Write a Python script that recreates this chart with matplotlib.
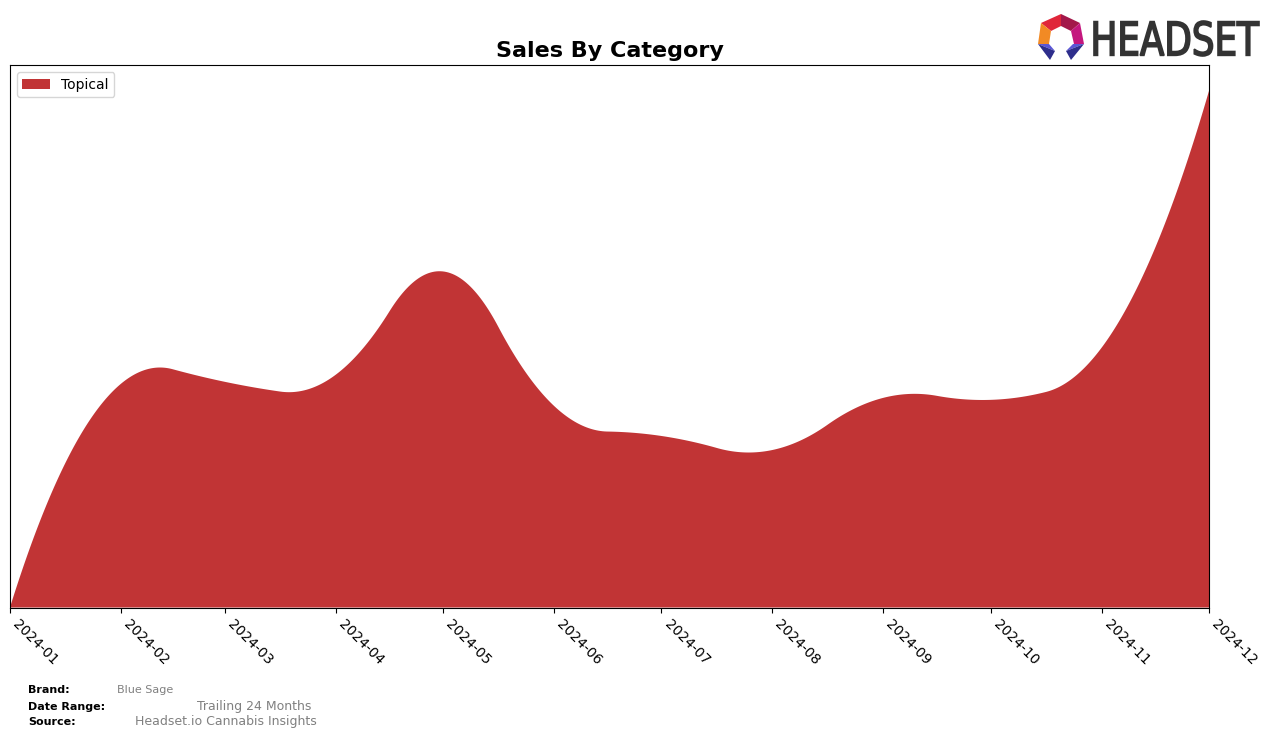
"""
Sales by category for Blue Sage, drawn as a smoothed area chart.
"""

import datetime

import numpy
import matplotlib
matplotlib.use('Agg')
from matplotlib import pyplot as plt
import matplotlib.dates as mdates
from matplotlib.patches import Polygon, PathPatch
from matplotlib.textpath import TextPath
from matplotlib.font_manager import FontProperties
from matplotlib.transforms import Affine2D

months = ['2024-01', '2024-02', '2024-03', '2024-04', '2024-05', '2024-06',
          '2024-07', '2024-08', '2024-09', '2024-10', '2024-11', '2024-12']
topicalSales = [0, 223, 225, 232, 335, 201, 171, 157, 209, 207, 259, 515]
category = 'Topical'
categoryColor = '#c13435'

brand = 'Blue Sage'
dateRange = 'Trailing 24 Months'
source = 'Headset.io Cannabis Insights'


def bsplineBasis(knots, degree, xs):
    """
    Cox-de Boor evaluation of all B-spline basis functions at xs
    """
    xs = numpy.asarray(xs, dtype=float)
    basis = numpy.zeros((len(xs), len(knots) - 1))
    for i in range(len(knots) - 1):
        basis[:, i] = (xs >= knots[i]) & (xs < knots[i + 1])
    lastSpan = max(i for i in range(len(knots) - 1) if knots[i] < knots[i + 1])
    basis[xs >= knots[-1], lastSpan] = 1.0
    for d in range(1, degree + 1):
        nextBasis = numpy.zeros((len(xs), len(knots) - 1 - d))
        for i in range(len(knots) - 1 - d):
            term = numpy.zeros(len(xs))
            if knots[i + d] > knots[i]:
                term += (xs - knots[i]) / (knots[i + d] - knots[i]) * basis[:, i]
            if knots[i + d + 1] > knots[i + 1]:
                term += (knots[i + d + 1] - xs) / (knots[i + d + 1] - knots[i + 1]) * basis[:, i + 1]
            nextBasis[:, i] = term
        basis = nextBasis
    return basis


def smoothCurve(x, y, numPoints=600):
    """
    Quadratic interpolating spline through the monthly values (knots between months)
    """
    x = numpy.asarray(x, dtype=float)
    mids = (x[1:] + x[:-1]) / 2.0
    knots = numpy.r_[(x[0],) * 3, mids[1:-1], (x[-1],) * 3]
    coeffs = numpy.linalg.solve(bsplineBasis(knots, 2, x), numpy.asarray(y, dtype=float))
    xs = numpy.linspace(x[0], x[-1], numPoints)
    return xs, bsplineBasis(knots, 2, xs) @ coeffs


def drawLogo(fig):
    """
    Headset logo in the top right corner, placed in pixel coordinates
    """
    height = fig.get_figheight() * fig.dpi
    toPixels = Affine2D().scale(1, -1).translate(0, height)
    pieces = [
        ([(1041, 23), (1061, 14), (1061, 26), (1051, 31)], '#e0263a'),
        ([(1061, 14), (1080, 23), (1071, 31), (1061, 26)], '#a3184a'),
        ([(1080, 23), (1084, 44), (1074, 44), (1071, 31)], '#c4177e'),
        ([(1041, 23), (1051, 31), (1049, 44), (1038, 44)], '#f28a24'),
        ([(1038, 44), (1049, 44), (1055, 51)], '#5a56d6'),
        ([(1038, 44), (1055, 51), (1050, 60)], '#2e2e8c'),
        ([(1073, 44), (1084, 44), (1066, 51)], '#5a56d6'),
        ([(1084, 44), (1071, 60), (1066, 51)], '#2e2e8c'),
    ]
    for points, color in pieces:
        fig.add_artist(Polygon(toPixels.transform(points), closed=True, facecolor=color,
                               edgecolor='none', transform=None))
    path = TextPath((0, 0), 'HEADSET', size=40, prop=FontProperties(family='DejaVu Sans'))
    box = path.get_extents()
    left, top, right, bottom = 1094, 21, 1259, 56
    fit = Affine2D().translate(-box.x0, -box.y0).scale((right - left) / box.width,
                                                       (bottom - top) / box.height) \
        .translate(left, height - bottom)
    fig.add_artist(PathPatch(fit.transform_path(path), facecolor='#333333', edgecolor='#333333',
                             linewidth=1.2, transform=None))


if __name__ == '__main__':
    monthDates = [datetime.datetime.strptime(m, '%Y-%m') for m in months]
    x = mdates.date2num(monthDates)
    xs, ys = smoothCurve(x, topicalSales)

    fig = plt.figure(figsize=(12.76, 7.38), dpi=100)
    ax = fig.add_axes([0.0078, 0.1768, 0.9397, 0.7351])
    ax.stackplot(xs, ys, labels=[category], colors=[categoryColor])
    ax.set_xlim(x[0], x[-1])
    ax.set_ylim(0, max(ys) * 1.05)
    ax.set_yticks([])
    ax.set_xticks(x)
    ax.set_xticklabels(months, rotation=-45, ha='left', rotation_mode='default', fontsize=10)
    ax.set_title('Sales By Category', fontsize=16, fontweight='bold')
    ax.legend(loc='upper left', fontsize=10)

    fig.text(0.022, 0.061, 'Brand:', fontsize=8, fontweight='bold')
    fig.text(0.092, 0.061, brand, fontsize=8, color='gray')
    fig.text(0.022, 0.038, 'Date Range:', fontsize=8, fontweight='bold')
    fig.text(0.154, 0.038, dateRange, fontsize=9, color='gray')
    fig.text(0.022, 0.018, 'Source:', fontsize=8, fontweight='bold')
    fig.text(0.106, 0.018, source, fontsize=9, color='gray')

    drawLogo(fig)
    fig.savefig('out.png', dpi=100)
